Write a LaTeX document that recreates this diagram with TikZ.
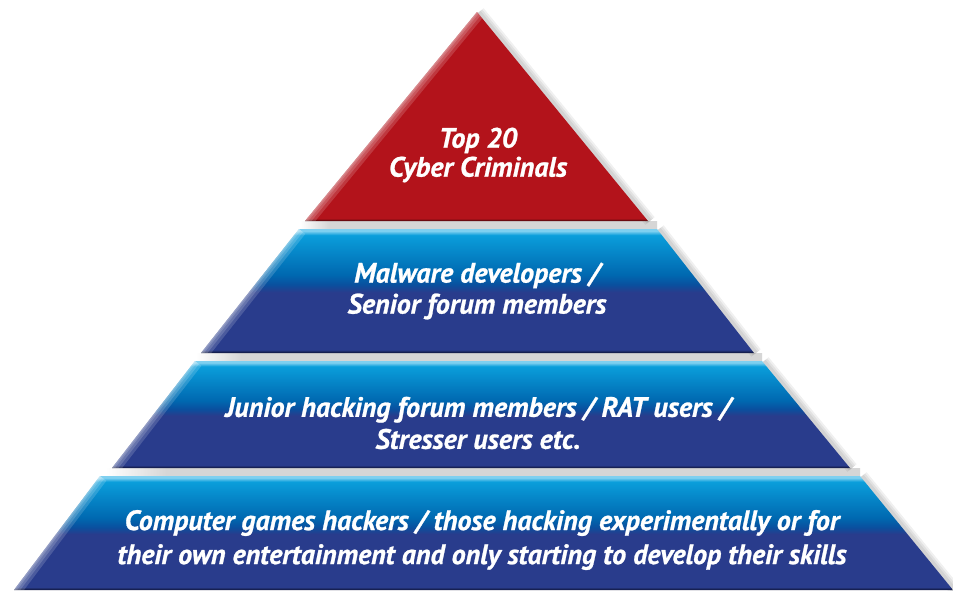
\documentclass[tikz,border=0pt]{standalone}
\usepackage{fontspec}
\newfontfamily\lblfont[BoldItalicFeatures={FakeBold=0.9}]{PT Sans}
\definecolor{pyrred}{HTML}{B3131B}
\definecolor{pyrreddark}{HTML}{3C0609}
\definecolor{hiblue}{HTML}{7FD0F0}
\definecolor{ltblue}{HTML}{0A9EDB}
\definecolor{midblue}{HTML}{0068B0}
\definecolor{deepblue}{HTML}{0A4F9E}
\definecolor{navy}{HTML}{293C8C}
\definecolor{navydark}{HTML}{0C1235}
\definecolor{gapgray}{HTML}{D6D6D6}
\pgfdeclareverticalshading{bandshade}{100bp}{%
  color(0bp)=(navydark); color(25bp)=(navydark); color(26.3bp)=(navy);
  color(49.5bp)=(navy); color(52.5bp)=(deepblue); color(56.5bp)=(midblue);
  color(72.5bp)=(ltblue); color(74.2bp)=(hiblue); color(100bp)=(hiblue)}
\pgfdeclareverticalshading{redshade}{100bp}{%
  color(0bp)=(pyrreddark); color(25bp)=(pyrreddark); color(25.6bp)=(pyrred);
  color(100bp)=(pyrred)}
\pgfdeclarehorizontalshading{gapshade}{100bp}{%
  color(0bp)=(white); color(25bp)=(white); color(29bp)=(gapgray);
  color(100bp)=(gapgray)}
\begin{document}
\begin{tikzpicture}[x=1pt,y=-1pt,
  lbl/.style={text=white, align=center, inner sep=0pt},
  lblfnt/.style={font=\lblfont\bfseries\itshape\fontsize{28}{#1}\selectfont},
  gapstrip/.style={shading=gapshade},
  bevel/.style={white, opacity=0.16},
  halo/.style={black, opacity=0.06}]
\useasboundingbox[fill=white] (0,0) rectangle (953,590);
% corner coordinates
\coordinate (rA) at (477,12);
\coordinate (rL) at (305,221);
\coordinate (rR) at (648,221);
\coordinate (b1tl) at (299,229); \coordinate (b1tr) at (657,229);
\coordinate (b1br) at (754,353); \coordinate (b1bl) at (201,353);
\coordinate (b2tl) at (195,361); \coordinate (b2tr) at (762,361);
\coordinate (b2br) at (850,468); \coordinate (b2bl) at (112,468);
\coordinate (b3tl) at (100,476); \coordinate (b3tr) at (860,476);
\coordinate (b3br) at (953,590); \coordinate (b3bl) at (14,590);
% gray gaps between layers
\shade[gapstrip] (300,221) rectangle (657,229);
\shade[gapstrip] (196,353) rectangle (762,361);
\shade[gapstrip] (106,468) rectangle (860,476);
% soft shadows on the right edges
\foreach \w in {12,8,4}{
  \draw[halo, line width=\w] ([xshift=2]rA) -- ([xshift=2]rR);
  \draw[halo, line width=\w] ([xshift=2]b1tr) -- ([xshift=2]b1br);
  \draw[halo, line width=\w] ([xshift=2]b2tr) -- ([xshift=2]b2br);
  \draw[halo, line width=\w] ([xshift=2]b3tr) -- ([xshift=2]b3br);
}
% red apex
\shade[shading=redshade] (rA) -- (rR) -- (rL) -- cycle;
\begin{scope}
  \clip (rA) -- (rR) -- (rL) -- cycle;
  \foreach \w in {16,10,5,2}{\draw[bevel, line width=\w] (rL) -- (rA);}
\end{scope}
% blue bands
\foreach \tl/\tr/\br/\bl in {b1tl/b1tr/b1br/b1bl, b2tl/b2tr/b2br/b2bl, b3tl/b3tr/b3br/b3bl}{
  \shade[shading=bandshade] (\tl) -- (\tr) -- (\br) -- (\bl) -- cycle;
  \begin{scope}
    \clip (\tl) -- (\tr) -- (\br) -- (\bl) -- cycle;
    \foreach \w in {16,10,5,2}{\draw[bevel, line width=\w] (\bl) -- (\tl);}
  \end{scope}
}
% labels
\node[lbl, lblfnt=29] (t0) at (478,155) {Top 20\\Cyber Criminals};
\node[lbl, lblfnt=31] (t1) at (477,291) {Malware developers /\\Senior forum members};
\node[lbl, lblfnt=32] (t2) at (478,423) {Junior hacking forum members / RAT users /\\Stresser users etc.};
\node[lbl, lblfnt=34] (t3) at (482,540) {Computer games hackers / those hacking experimentally or for\\their own entertainment and only starting to develop their skills};
\end{tikzpicture}
\end{document}
